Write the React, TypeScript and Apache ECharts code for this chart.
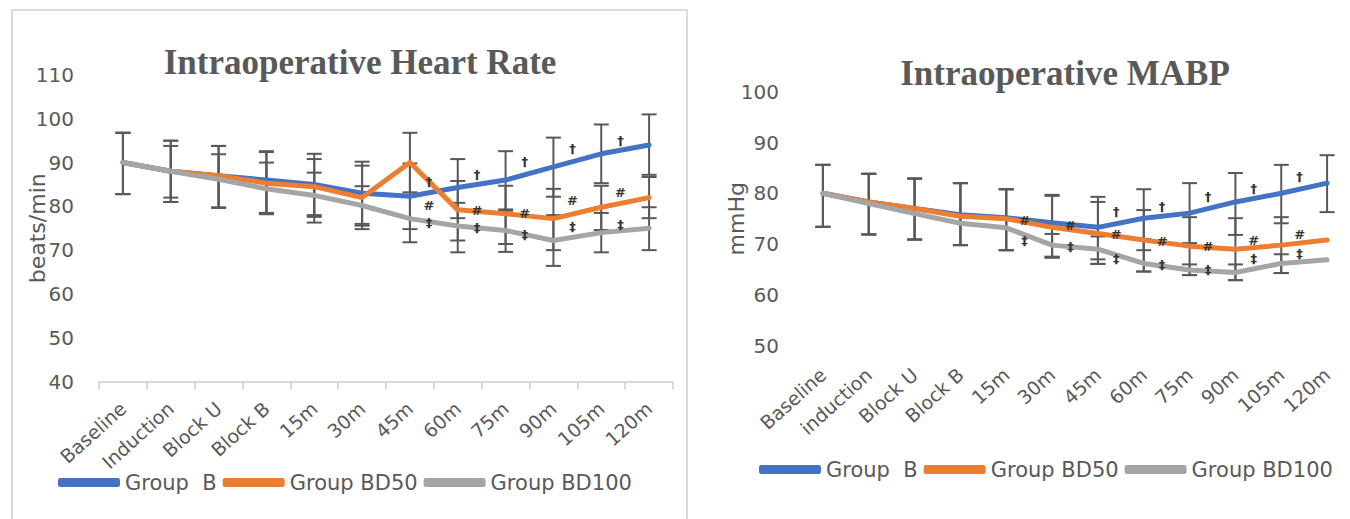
import React, { useEffect, useRef } from "react";
import * as echarts from "echarts";

// ---------- Data ----------
const hrCategories = ["Baseline", "Induction", "Block U", "Block B", "15m", "30m", "45m", "60m", "75m", "90m", "105m", "120m"];
const mapCategories = ["Baseline", "induction", "Block U", "Block B", "15m", "30m", "45m", "60m", "75m", "90m", "105m", "120m"];
const seriesNames = ["Group  B", "Group BD50", "Group BD100"];

// Intraoperative Heart Rate (beats/min)
const hrGroupB = [90, 88, 87, 86, 85, 83, 82.3, 84.3, 86, 89, 92, 94];
const hrGroupBD50 = [90, 88, 87, 85.3, 84.5, 82, 90, 79.2, 78.3, 77.2, 79.8, 82];
const hrGroupBD100 = [90, 88, 86.2, 84, 82.5, 80.2, 77.2, 75.5, 74.5, 72.2, 74, 75];

const hrGroupBLow = [82.8, 81, 79.7, 78.5, 78, 76, 74.8, 77.3, 79.3, 82.2, 85.3, 87.2];
const hrGroupBHigh = [96.8, 95, 93.8, 92.6, 92, 90.2, 89.8, 90.8, 92.6, 95.7, 98.7, 101];
const hrGroupBD50Low = [82.8, 82, 79.7, 78.2, 77.6, 74.8, 83.2, 72.2, 71.4, 70, 74.6, 77.3];
const hrGroupBD50High = [96.8, 93.8, 93.8, 92.4, 90.8, 89.3, 96.8, 85.8, 84.7, 84, 84.7, 86.7];
const hrGroupBD100Low = [82.8, 81, 79.7, 78.5, 76.3, 75.6, 71.8, 69.5, 69.6, 66.4, 69.5, 70];
const hrGroupBD100High = [96.8, 95, 91.9, 90, 87.7, 84.6, 82.5, 80.8, 79, 78, 78.5, 79.8];

const hrDagger = [null, null, null, null, null, null, 85.6, 87.2, 90.2, 93.2, 95.1, null];
const hrHash = [null, null, null, null, null, null, 80.3, 79, 78.4, 81.4, 83.2, null];
const hrDoubleDagger = [null, null, null, null, null, null, 76.4, 75.1, 73.6, 75.4, 75.9, null];

// Intraoperative MABP (mmHg)
const mapGroupB = [80, 78.3, 77, 75.8, 75.2, 74.2, 73.3, 75.1, 76.1, 78.3, 80, 82];
const mapGroupBD50 = [80, 78.3, 77, 75.5, 75, 73.3, 72.1, 70.8, 69.6, 69, 69.8, 70.8];
const mapGroupBD100 = [80, 78, 76, 74.1, 73.2, 69.8, 69, 66.2, 64.9, 64.4, 66.2, 66.9];

const mapGroupBLow = [73.4, 71.9, 70.9, 69.8, 68.8, 67.5, 67, 68.8, 70.2, 71.8, 74.1, 76.3];
const mapGroupBHigh = [85.6, 83.8, 82.9, 82, 80.8, 79.7, 79.3, 80.8, 82, 84, 85.6, 87.5];
const mapGroupBD50Low = [73.4, 71.9, 70.9, 69.8, 68.8, 67.3, 66.1, 64.6, 63.9, 62.9, 64.3, null];
const mapGroupBD50High = [85.6, 83.9, 82.9, 82, 80.8, 79.5, 78.3, 76.7, 75.3, 75.1, 75.3, null];
const mapGroupBD100Low = [73.4, 71.9, 70.9, 69.8, 68.8, 67.5, 66.1, 64.6, 63.9, 62.9, 64.3, null];
const mapGroupBD100High = [85.6, 83.8, 82.9, 82, 80.8, 72, 71.5, 71, 66, 66, 68, null];

const mapDagger = [null, null, null, null, null, null, 76.4, 77.4, 79.3, 81, 83.3, null];
const mapHash = [null, null, null, null, 74.7, 73.6, 71.8, 70.6, 69.6, 70.8, 71.8, null];
const mapDoubleDagger = [null, null, null, null, 70.8, 69.6, 67.2, 66, 65, 67.2, 68.2, null];

// ---------- Styling ----------
const COLORS = ["#4472C4", "#ED7D31", "#A5A5A5"];
const TEXT = "#595959";
const SANS = "DejaVu Sans";

function errorSeries(low: (number | null)[], high: (number | null)[], axis: number) {
  const data = low
    .map((l, i) => (l == null || high[i] == null ? null : [i, l, high[i]]))
    .filter((d) => d !== null);
  return {
    type: "custom",
    xAxisIndex: axis,
    yAxisIndex: axis,
    z: 2,
    silent: true,
    encode: { x: 0, y: [1, 2] },
    data,
    renderItem: (params: any, api: any) => {
      const idx = api.value(0);
      const lo = api.coord([idx, api.value(1)]);
      const hi = api.coord([idx, api.value(2)]);
      const hw = 7.5;
      const st = { stroke: TEXT, lineWidth: 2 };
      return {
        type: "group",
        children: [
          { type: "line", shape: { x1: lo[0], y1: lo[1], x2: hi[0], y2: hi[1] }, style: st },
          { type: "line", shape: { x1: hi[0] - hw, y1: hi[1], x2: hi[0] + hw, y2: hi[1] }, style: st },
          { type: "line", shape: { x1: lo[0] - hw, y1: lo[1], x2: lo[0] + hw, y2: lo[1] }, style: st },
        ],
      };
    },
  };
}

function markSeries(values: (number | null)[], glyph: string, axis: number) {
  const data = values.map((v, i) => (v == null ? null : [i, v])).filter((d) => d !== null);
  return {
    type: "custom",
    xAxisIndex: axis,
    yAxisIndex: axis,
    z: 5,
    silent: true,
    data,
    renderItem: (params: any, api: any) => {
      const p = api.coord([api.value(0), api.value(1)]);
      const bw = api.size([1, 0])[0];
      return {
        type: "text",
        x: p[0] + bw * 0.4,
        y: p[1],
        style: {
          text: glyph,
          fill: "#333333",
          fontSize: 13,
          fontWeight: "bold",
          fontFamily: SANS,
          align: "center",
          verticalAlign: "middle",
        },
      };
    },
  };
}

function lineSeries(name: string, values: number[], color: string, axis: number) {
  return {
    name,
    type: "line",
    xAxisIndex: axis,
    yAxisIndex: axis,
    data: values,
    symbol: "none",
    z: 3,
    lineStyle: { width: 5, color, cap: "round", join: "round" },
    itemStyle: { color },
  };
}

function legendCfg(left: number, top: number) {
  return {
    data: seriesNames,
    left,
    top,
    icon: "roundRect",
    itemWidth: 62,
    itemHeight: 9,
    itemGap: 6,
    selectedMode: false,
    textStyle: { fontSize: 21, color: TEXT, fontFamily: SANS },
  };
}

export default function App() {
  const ref = useRef<HTMLDivElement>(null);

  useEffect(() => {
    if (!ref.current) return;
    const chart = echarts.init(ref.current, null, { renderer: "svg" });
    const option: any = {
      animation: false,
      backgroundColor: "#ffffff",
      textStyle: { fontFamily: SANS },
      graphic: [
        {
          type: "rect",
          shape: { x: 12, y: 10, width: 675, height: 520 },
          style: { fill: "none", stroke: "#dcdcdc", lineWidth: 2 },
          silent: true,
        },
      ],
      title: [
        {
          text: "Intraoperative Heart Rate",
          left: 355,
          top: 40,
          textAlign: "center",
          textStyle: { fontFamily: "Liberation Serif", fontWeight: "bold", fontSize: 35, color: TEXT },
        },
        {
          text: "Intraoperative MABP",
          left: 1060,
          top: 51,
          textAlign: "center",
          textStyle: { fontFamily: "Liberation Serif", fontWeight: "bold", fontSize: 35, color: TEXT },
        },
      ],
      legend: [legendCfg(53, 467), legendCfg(754, 454)],
      grid: [
        { left: 99, top: 75, width: 574, height: 306.5, containLabel: false },
        { left: 800, top: 91.7, width: 564, height: 254, containLabel: false },
      ],
      xAxis: [
        {
          gridIndex: 0,
          type: "category",
          data: hrCategories,
          boundaryGap: true,
          axisLine: { show: true, lineStyle: { color: "#d9d9d9", width: 2 } },
          axisTick: { show: true, length: 8, lineStyle: { color: "#d9d9d9", width: 2 } },
          axisLabel: { interval: 0, rotate: 42, fontSize: 19, color: TEXT, margin: 24, fontFamily: SANS },
        },
        {
          gridIndex: 1,
          type: "category",
          data: mapCategories,
          boundaryGap: true,
          axisLine: { show: false },
          axisTick: { show: false },
          axisLabel: { interval: 0, rotate: 42, fontSize: 19, color: TEXT, margin: 26, fontFamily: SANS },
        },
      ],
      yAxis: [
        {
          gridIndex: 0,
          type: "value",
          min: 40,
          max: 110,
          interval: 10,
          axisLine: { show: false },
          axisTick: { show: false },
          splitLine: { show: false },
          axisLabel: { fontSize: 20, color: TEXT, margin: 25, fontFamily: SANS },
          name: "beats/min",
          nameLocation: "middle",
          nameGap: 51,
          nameMoveOverlap: false,
          nameTextStyle: { fontSize: 22, color: TEXT, fontFamily: SANS },
        },
        {
          gridIndex: 1,
          type: "value",
          min: 50,
          max: 100,
          interval: 10,
          axisLine: { show: false },
          axisTick: { show: false },
          splitLine: { show: false },
          axisLabel: { fontSize: 20, color: TEXT, margin: 21, fontFamily: SANS },
          name: "mmHg",
          nameLocation: "middle",
          nameGap: 53,
          nameMoveOverlap: false,
          nameTextStyle: { fontSize: 22, color: TEXT, fontFamily: SANS },
        },
      ],
      series: [
        errorSeries(hrGroupBLow, hrGroupBHigh, 0),
        errorSeries(hrGroupBD50Low, hrGroupBD50High, 0),
        errorSeries(hrGroupBD100Low, hrGroupBD100High, 0),
        lineSeries(seriesNames[0], hrGroupB, COLORS[0], 0),
        lineSeries(seriesNames[1], hrGroupBD50, COLORS[1], 0),
        lineSeries(seriesNames[2], hrGroupBD100, COLORS[2], 0),
        markSeries(hrDagger, "†", 0),
        markSeries(hrHash, "#", 0),
        markSeries(hrDoubleDagger, "‡", 0),
        errorSeries(mapGroupBLow, mapGroupBHigh, 1),
        errorSeries(mapGroupBD50Low, mapGroupBD50High, 1),
        errorSeries(mapGroupBD100Low, mapGroupBD100High, 1),
        lineSeries(seriesNames[0], mapGroupB, COLORS[0], 1),
        lineSeries(seriesNames[1], mapGroupBD50, COLORS[1], 1),
        lineSeries(seriesNames[2], mapGroupBD100, COLORS[2], 1),
        markSeries(mapDagger, "†", 1),
        markSeries(mapHash, "#", 1),
        markSeries(mapDoubleDagger, "‡", 1),
      ],
    };
    chart.setOption(option);
    return () => {
      chart.dispose();
    };
  }, []);

  return (
    <div
      ref={ref}
      style={{ position: "absolute", left: 0, top: 0, width: 1350, height: 519, background: "#fff" }}
    />
  );
}
